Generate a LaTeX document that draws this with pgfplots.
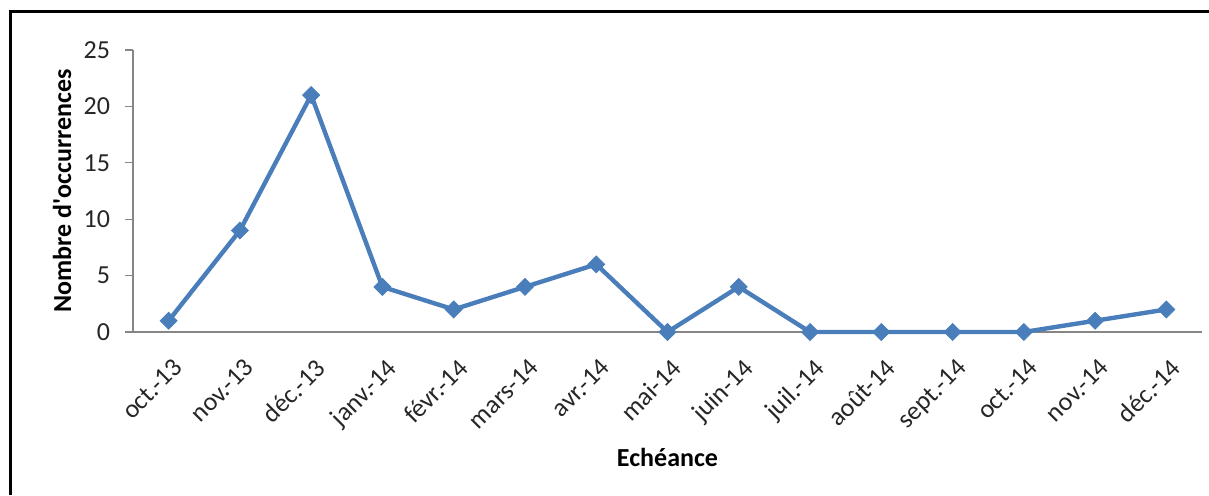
\documentclass[border=0pt]{standalone}
\usepackage{fontspec}
\setmainfont{Carlito}
\usepackage{pgfplots}
\pgfplotsset{compat=1.18}
\definecolor{serie}{RGB}{74,126,187}
\definecolor{axe}{RGB}{134,134,134}
\definecolor{texte}{RGB}{38,38,38}
\begin{document}
\begin{tikzpicture}
\useasboundingbox (0,0) rectangle (604.5pt,247.5pt);
% cadre
\draw[line width=1.5pt] (5pt,0) -- (5pt,242pt) -- (604.5pt,242pt);
\begin{axis}[
  at={(66.5pt,81.5pt)}, anchor=south west,
  scale only axis, width=534.5pt, height=141pt,
  xmin=-0.5, xmax=14.5, ymin=0, ymax=25,
  axis x line*=bottom, axis y line*=left,
  axis line style={axe, line width=0.6pt},
  xtick=data, ytick={0,5,...,25},
  xticklabels={oct.-13,nov.-13,déc.-13,janv.-14,févr.-14,mars-14,avr.-14,mai-14,juin-14,juil.-14,août-14,sept.-14,oct.-14,nov.-14,déc.-14},
  x tick style={draw=none},
  y tick style={axe, line width=0.6pt},
  tick align=outside, major tick length=4pt,
  ticklabel style={font=\fontsize{13}{15}\selectfont, text=texte},
  xticklabel style={xshift=1.5pt, yshift=-7pt, rotate=45, anchor=north east, inner sep=1pt},
  yticklabel style={xshift=-4pt},
  /pgf/number format/assume math mode=true,
  xlabel={\textbf{Echéance}},
  ylabel={\textbf{Nombre d\textquotesingle occurrences}},
  label style={font=\fontsize{13}{15}\selectfont, text=black},
  xlabel style={at={(axis description cs:0.5,0)}, anchor=center, yshift=-62.5pt},
  ylabel style={at={(axis description cs:-0.0664,0.5)}, anchor=center},
  clip=false,
]
\addplot[serie, line width=2.2pt, mark=square*, mark size=3pt,
  mark options={rotate=45, fill=serie, draw=serie, line width=0.4pt}]
  coordinates {(0,1) (1,9) (2,21) (3,4) (4,2) (5,4) (6,6) (7,0) (8,4) (9,0) (10,0) (11,0) (12,0) (13,1) (14,2)};
\end{axis}
\end{tikzpicture}
\end{document}
